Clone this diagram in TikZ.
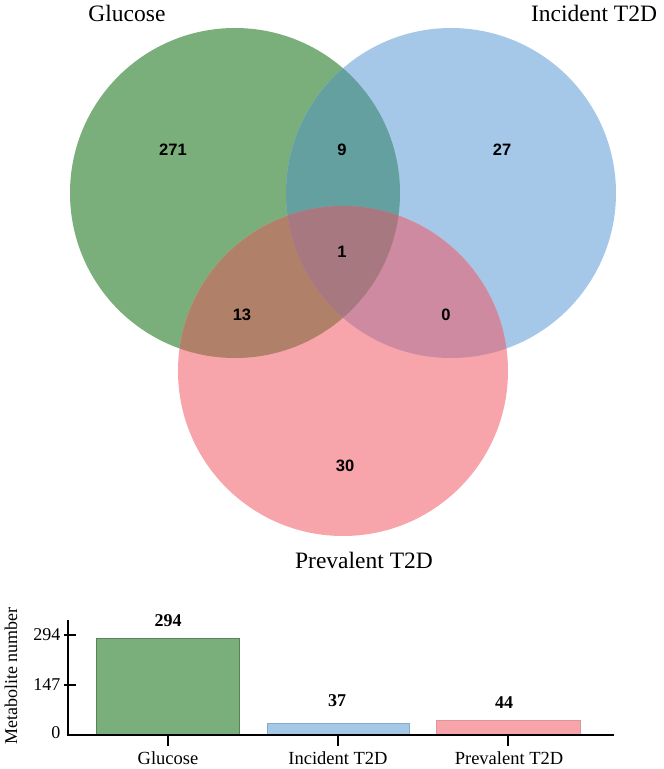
\documentclass[tikz,border=0pt]{standalone}
\usepackage{fontspec}
\setmainfont{Liberation Serif}
\newfontfamily\arialf{Liberation Sans}
\definecolor{cgreen}{RGB}{122,174,122}
\definecolor{cblue}{RGB}{166,200,232}
\definecolor{cred}{RGB}{247,164,170}
\definecolor{cgb}{RGB}{100,160,160}
\definecolor{cgr}{RGB}{176,128,104}
\definecolor{cbr}{RGB}{205,138,160}
\definecolor{cgbr}{RGB}{168,120,128}
\begin{document}
\begin{tikzpicture}[x=1pt,y=-1pt,
  setlabel/.style={font=\fontsize{23.5}{25}\selectfont},
  vnum/.style={font=\arialf\bfseries\fontsize{16.5}{18}\selectfont},
  barval/.style={font=\bfseries\fontsize{18}{20}\selectfont},
  axlab/.style={font=\fontsize{18}{20}\selectfont},
  catlab/.style={font=\fontsize{18.5}{20}\selectfont},
  axisline/.style={line width=1.5pt,black},
  barbox/.style={line width=0.8pt}]
\useasboundingbox (0,0) rectangle (664,769);
% centres
\coordinate (cG) at (235,193);
\coordinate (cB) at (451,193);
\coordinate (cR) at (343,371);
% circles
\fill[cgreen] (cG) circle[radius=165];
\fill[cblue] (cB) circle[radius=165];
\fill[cred] (cR) circle[radius=165];
\begin{scope}
  \clip (cG) circle[radius=165];
  \fill[cgb] (cB) circle[radius=165];
  \fill[cgr] (cR) circle[radius=165];
\end{scope}
\begin{scope}
  \clip (cB) circle[radius=165];
  \fill[cbr] (cR) circle[radius=165];
\end{scope}
\begin{scope}
  \clip (cG) circle[radius=165];
  \clip (cB) circle[radius=165];
  \fill[cgbr] (cR) circle[radius=165];
\end{scope}
% set labels
\node[setlabel] (lG) at (127,13) {Glucose};
\node[setlabel] (lB) at (594,13) {Incident T2D};
\node[setlabel] (lR) at (364,560) {Prevalent T2D};
% region counts
\node[vnum] (n271) at (173,150) {271};
\node[vnum] (n9) at (342,150) {9};
\node[vnum] (n27) at (502,150) {27};
\node[vnum] (n1) at (342,252) {1};
\node[vnum] (n13) at (242,315) {13};
\node[vnum] (n0) at (446,315) {0};
\node[vnum] (n30) at (345,466) {30};
% bar chart
\coordinate (o) at (68,735);
\coordinate (ytop) at (68,620);
\coordinate (xend) at (614,735);
\fill[cgreen,draw=cgreen!75!black,barbox] (96,735) rectangle (239,638);
\fill[cblue,draw=cblue!85!black,barbox] (267,735) rectangle (409,723);
\fill[cred,draw=cred!90!black,barbox] (436,735) rectangle (580,720);
\draw[axisline] (ytop) -- (o) -- (xend);
\draw[axisline] (64,635) -- (76,635);
\draw[axisline] (64,685) -- (76,685);
\draw[axisline] (168,735) -- (168,746);
\draw[axisline] (338,735) -- (338,746);
\draw[axisline] (508,735) -- (508,746);
\node[axlab,anchor=east] (t294) at (64,635) {294};
\node[axlab,anchor=east] (t147) at (64,685) {147};
\node[axlab,anchor=east] (t0) at (64,733) {0};
\node[axlab,rotate=90] (ylab) at (11,676) {Metabolite number};
\node[barval] (v294) at (168,621) {294};
\node[barval] (v37) at (337,701) {37};
\node[barval] (v44) at (504,703) {44};
\node[catlab] (cg) at (168,758) {Glucose};
\node[catlab] (ci) at (338,758) {Incident T2D};
\node[catlab] (cp) at (509,758) {Prevalent T2D};
\end{tikzpicture}
\end{document}
